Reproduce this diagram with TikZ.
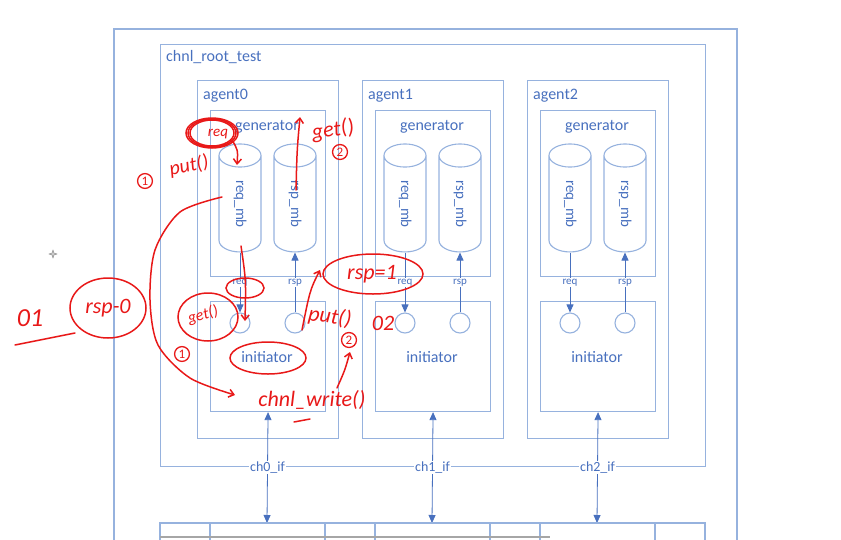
\documentclass[tikz,border=0pt]{standalone}
\usepackage{fontspec}
\setmainfont{Carlito}
\usetikzlibrary{shapes.geometric,arrows.meta,positioning}
\definecolor{boxblue}{RGB}{150,178,222}
\definecolor{txtblue}{RGB}{72,112,190}
\definecolor{pen}{RGB}{232,24,24}

\begin{document}
\begin{tikzpicture}[x=1pt,y=-1pt,
    box/.style={draw=boxblue,line width=1.1pt,inner sep=0pt},
    lbl/.style={text=txtblue,font=\fontsize{16}{18}\selectfont,inner sep=0pt},
    mb/.style={cylinder,draw=boxblue,line width=1.1pt,shape border rotate=90,inner sep=0pt,
      minimum height=108pt,minimum width=42pt,aspect=1.8,text=txtblue,font=\fontsize{15}{17}\selectfont},
    port/.style={circle,draw=boxblue,line width=1.1pt,minimum size=20pt,inner sep=0pt},
    sig/.style={draw=txtblue,line width=0.8pt,-{Triangle[width=7pt,length=8pt]}},
    bisig/.style={draw=txtblue,line width=0.8pt,{Triangle[width=7pt,length=8pt]}-{Triangle[width=7pt,length=8pt]}},
    tiny/.style={text=txtblue,fill=white,font=\fontsize{11}{12}\selectfont,inner sep=1pt},
    ink/.style={draw=pen,line width=1.5pt,line cap=round},
    inkarr/.style={ink,-{Straight Barb[length=5pt,width=8pt]}},
    scrawl/.style={text=pen,font=\itshape\fontsize{22}{24}\selectfont,inner sep=0pt},
    num/.style={circle,draw=pen,line width=1.3pt,inner sep=1.5pt,text=pen,font=\fontsize{13}{13}\selectfont}]
  \useasboundingbox (0,0) rectangle (841,539);

  % outer frame and test bench
  \draw[box] (114,560) -- (114,29) -- (737,29) -- (737,560);
  \node[box,anchor=north west,minimum width=545pt,minimum height=422pt] (root) at (160,44) {};
  \node[lbl,anchor=west] (rootlbl) at (166,57) {chnl\_root\_test};

  % agents
  \foreach \i in {0,1,2} {
    \pgfmathsetmacro\xa{197+165*\i}
    \node[box,anchor=north west,minimum width=141pt,minimum height=358pt] (agent\i) at (\xa,80) {};
    \node[lbl,anchor=west] (agentlbl\i) at (\xa+6,96) {agent\i};
    \node[box,anchor=north west,minimum width=115pt,minimum height=166pt] (gen\i) at (\xa+13,110) {};
    \node[lbl] (genlbl\i) at (\xa+70,127) {generator};
    \node[mb] (req\i) at (\xa+43,204) {\rotatebox{-90}{req\_mb}};
    \node[mb] (rsp\i) at (\xa+98,204) {\rotatebox{-90}{rsp\_mb}};
    \node[box,anchor=north west,minimum width=115pt,minimum height=110pt] (init\i) at (\xa+13,301) {};
    \node[lbl] (initlbl\i) at (\xa+70,357) {initiator};
    \node[port] (reqport\i) at (\xa+43,323) {};
    \node[port] (rspport\i) at (\xa+98,323) {};
    \coordinate (bus\i) at (\xa+70,523);
    \draw[sig] (req\i.south) -- node[tiny]{req} (reqport\i);
    \draw[sig] (rspport\i) -- node[tiny]{rsp} (rsp\i.south);
    \draw[bisig] (init\i.south) -- node[tiny,font=\fontsize{14}{15}\selectfont]{ch\i\_if} (bus\i);
  }

  % channel row at the bottom
  \draw[box] (160,560) -- (160,523) -- (705,523) -- (705,560);
  \foreach \x in {210,325,375,490,540,655}
    \draw[box] (\x,523) -- (\x,560);
  \draw[gray!70,line width=2pt] (160,537) -- (550,537);
  \draw[gray,fill=gray!40,line width=0.4pt] (53,250) -- (54,253) -- (57,254) -- (54,255) -- (53,258) -- (52,255) -- (49,254) -- (52,253) -- cycle;

  % hand notes
  \node[num] (one) at (145,181) {1};
  \node[scrawl,rotate=12,font=\itshape\fontsize{20}{22}\selectfont] (put) at (189,166) {put()};
  \foreach \r in {0,2,4}
    \draw[ink] (212,133) ellipse [x radius=22+\r,y radius=13+\r/2];
  \node[scrawl,font=\itshape\fontsize{15}{15}\selectfont] (reqnote) at (218,134) {req};
  \draw[inkarr] (232,140) .. controls (238,150) .. (237,165);
  \draw[inkarr] (296,190) .. controls (297,150) .. (300,117);
  \node[scrawl,rotate=8] (get) at (333,130) {get()};
  \node[num] (two) at (340,152) {2};
  \draw[inkarr] plot[smooth] coordinates {(222,197) (180,212) (155,250) (150,300) (158,345) (190,378) (235,395)};
  \node[scrawl] (write) at (312,400) {chnl\_write()};
  \draw[inkarr] (241,246) .. controls (246,280) .. (245,321);
  \draw[ink] (245,288) ellipse [x radius=19,y radius=10];
  \draw[ink] (208,317) ellipse [x radius=30,y radius=24];
  \node[scrawl,rotate=15,font=\itshape\fontsize{16}{16}\selectfont] (get1) at (203,315) {get()};
  \node[num] (one1) at (182,354) {1};
  \draw[ink] (268,358) ellipse [x radius=38,y radius=16];
  \node[scrawl,font=\itshape\fontsize{26}{26}\selectfont] (zeroone) at (30,318) {01};
  \draw[ink] (15,345) -- (75,333);
  \draw[ink] (108,308) ellipse [x radius=38,y radius=30];
  \node[scrawl] (rsp0note) at (108,308) {rsp-0};
  \draw[inkarr] (302,330) .. controls (310,290) .. (320,270);
  \draw[ink] (373,274) ellipse [x radius=50,y radius=20];
  \node[scrawl] (rsp1note) at (372,274) {rsp=1};
  \node[scrawl,rotate=-8] (put2) at (330,317) {put()};
  \node[scrawl] (zerotwo) at (383,323) {02};
  \node[num] (two2) at (349,340) {2};
  \draw[inkarr] (337,388) .. controls (345,370) .. (350,352);
  \draw[ink] (294,422) -- (310,419);
\end{tikzpicture}
\end{document}
